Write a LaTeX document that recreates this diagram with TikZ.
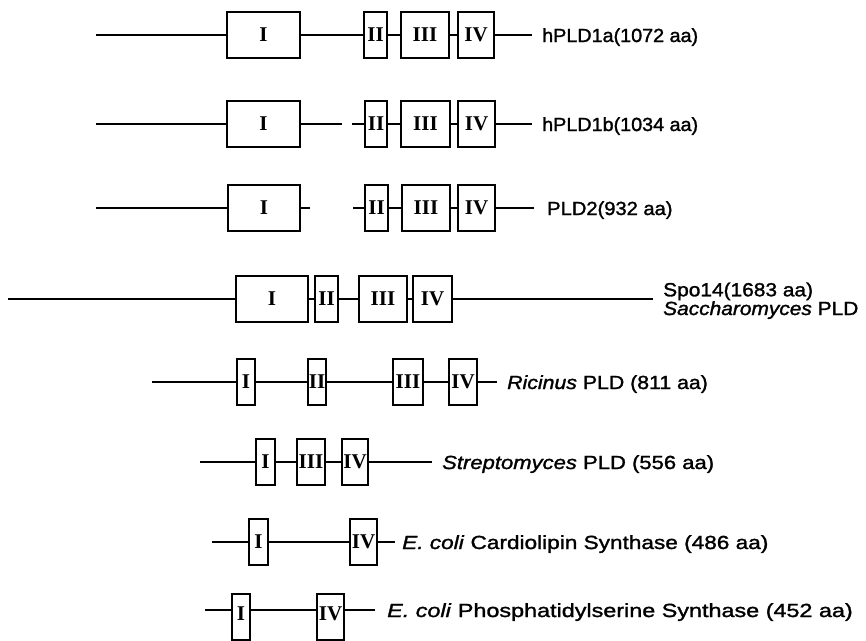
\documentclass[tikz,border=0pt]{standalone}
\usepackage{fontspec}
\setmainfont{Liberation Serif}
\setsansfont{Liberation Sans}
\usetikzlibrary{positioning}
\tikzset{dom/.style={draw,line width=1.3pt,fill=white,inner sep=0pt,minimum height=46pt,
    font=\fontsize{21}{21}\selectfont\bfseries},
  chain/.style={line width=2.5pt},
  lbl/.style={anchor=base west,inner sep=0pt,
    font=\fontsize{19}{17.5}\selectfont\sffamily\addfontfeatures{FakeStretch=#1,FakeBold=1.5}},
  lbl/.default=1}

\begin{document}
\begin{tikzpicture}[x=1pt,y=-1pt]
\useasboundingbox (0,0) rectangle (866,640);
% hPLD1a
\coordinate (s1) at (96,35);
\node[dom,minimum width=73pt] (a1) at (263.5,35) {I};
\node[dom,minimum width=23pt] (b1) at (375.5,35) {II};
\node[dom,minimum width=48pt] (c1) at (425,35) {III};
\node[dom,minimum width=36pt] (d1) at (476,35) {IV};
\coordinate (e1) at (532,35);
\node[lbl=1.04] (t1) at (542,42) {hPLD1a(1072 aa)};
\draw[chain] (s1)--(a1)--(b1)--(c1)--(d1)--(e1);
% hPLD1b
\coordinate (s2) at (96,124);
\node[dom,minimum width=73pt] (a2) at (263.5,124) {I};
\coordinate (g2) at (342,124);
\coordinate (h2) at (352,124);
\node[dom,minimum width=22pt] (b2) at (376,124) {II};
\node[dom,minimum width=49pt] (c2) at (425.5,124) {III};
\node[dom,minimum width=37pt] (d2) at (476.5,124) {IV};
\coordinate (e2) at (532,124);
\node[lbl=1.04] (t2) at (542,131) {hPLD1b(1034 aa)};
\draw[chain] (s2)--(a2)--(g2) (h2)--(b2)--(c2)--(d2)--(e2);
% PLD2
\coordinate (s3) at (96,208);
\node[dom,minimum width=72pt] (a3) at (264,208) {I};
\coordinate (g3) at (310,208);
\coordinate (h3) at (353,208);
\node[dom,minimum width=23pt] (b3) at (376.5,208) {II};
\node[dom,minimum width=48pt] (c3) at (426,208) {III};
\node[dom,minimum width=37pt] (d3) at (476.5,208) {IV};
\coordinate (e3) at (534,208);
\node[lbl=1.06] (t3) at (547,215) {PLD2(932 aa)};
\draw[chain] (s3)--(a3)--(g3) (h3)--(b3)--(c3)--(d3)--(e3);
% Spo14
\coordinate (s4) at (8,299);
\node[dom,minimum width=72pt] (a4) at (272,299) {I};
\node[dom,minimum width=23pt] (b4) at (326.5,299) {II};
\node[dom,minimum width=48pt] (c4) at (383,299) {III};
\node[dom,minimum width=39pt] (d4) at (432.5,299) {IV};
\coordinate (e4) at (653,299);
\node[lbl=1.1,align=left] (t4) at (663,315)
  {Spo14(1683 aa)\\\textit{Saccharomyces} PLD};
\draw[chain] (s4)--(a4)--(b4)--(c4)--(d4)--(e4);
% Ricinus
\coordinate (s5) at (152,382);
\node[dom,minimum width=18pt] (a5) at (246,382) {I};
\node[dom,minimum width=18pt] (b5) at (317,382) {II};
\node[dom,minimum width=30pt] (c5) at (408,382) {III};
\node[dom,minimum width=28pt] (d5) at (463,382) {IV};
\coordinate (e5) at (497,382);
\node[lbl=1.12] (t5) at (507,389) {\textit{Ricinus} PLD (811 aa)};
\draw[chain] (s5)--(a5)--(b5)--(c5)--(d5)--(e5);
% Streptomyces
\coordinate (s6) at (200,462);
\node[dom,minimum width=19pt] (a6) at (265.5,462) {I};
\node[dom,minimum width=28pt] (c6) at (311,462) {III};
\node[dom,minimum width=26pt] (d6) at (355,462) {IV};
\coordinate (e6) at (432,462);
\node[lbl=1.16] (t6) at (442,469) {\textit{Streptomyces} PLD (556 aa)};
\draw[chain] (s6)--(a6)--(c6)--(d6)--(e6);
% E. coli CLS
\coordinate (s7) at (212,542);
\node[dom,minimum width=19pt] (a7) at (258.5,542) {I};
\node[dom,minimum width=27pt] (d7) at (363.5,542) {IV};
\coordinate (e7) at (395,542);
\node[lbl=1.19] (t7) at (402,549) {\textit{E. coli} Cardiolipin Synthase (486 aa)};
\draw[chain] (s7)--(a7)--(d7)--(e7);
% E. coli PSS
\coordinate (s8) at (205,610);
\node[dom,minimum width=18pt] (a8) at (241,617) {\raisebox{7pt}{I}};
\node[dom,minimum width=27pt] (d8) at (330.5,617) {\raisebox{7pt}{IV}};
\coordinate (e8) at (375,610);
\node[lbl=1.23] (t8) at (387,617) {\textit{E. coli} Phosphatidylserine Synthase (452 aa)};
\draw[chain] (s8)--(s8-|a8.west) (s8-|a8.east)--(s8-|d8.west) (s8-|d8.east)--(e8);
\end{tikzpicture}
\end{document}
